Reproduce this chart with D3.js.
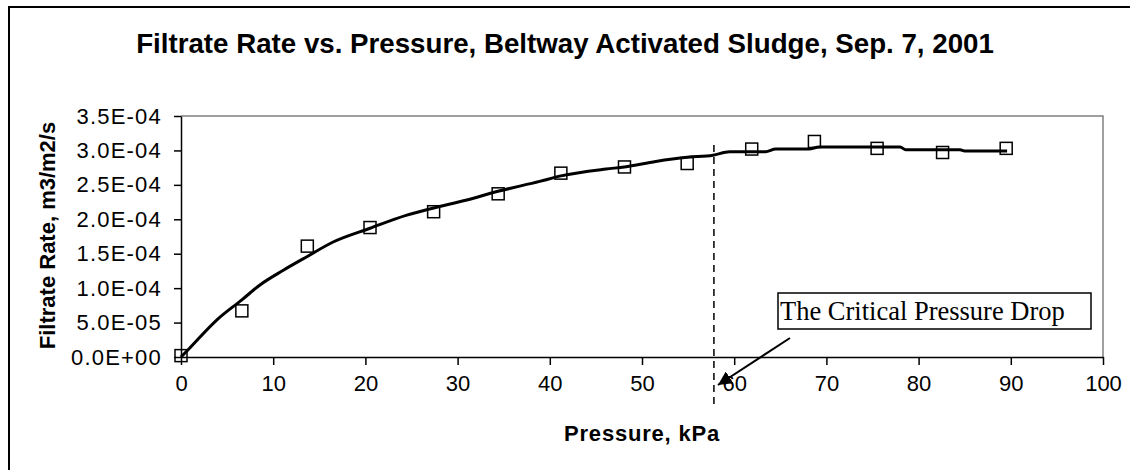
<!DOCTYPE html>
<html>
<head>
<meta charset="utf-8">
<script src="https://cdn.jsdelivr.net/npm/d3@7"></script>
<style>
  html, body { margin: 0; background: #fff; overflow: hidden; }
  svg { display: block; }
</style>
</head>
<body>
<svg></svg>
<script>
// measured points (squares)
const PRESSURE = [0, 6.6, 13.7, 20.5, 27.4, 34.4, 41.2, 48.1, 54.9, 61.9, 68.7, 75.5, 82.6, 89.5];
const RATE = [0.02e-4, 0.67e-4, 1.61e-4, 1.88e-4, 2.11e-4, 2.37e-4, 2.67e-4, 2.76e-4, 2.81e-4, 3.02e-4, 3.13e-4, 3.03e-4, 2.97e-4, 3.03e-4];

// fitted curve
const CURVE_P = [0, 0.8, 3.9, 6.6, 8.6, 11.1, 13.7, 16.5, 20.5, 24.5, 27.3, 31.0, 34.5, 38.9, 41.2, 46.1, 48.1, 51.5, 54.9, 57.7, 59.5, 63.4, 64.5, 68.1, 69.2, 75.5, 78.0, 78.6, 84.5, 85.0, 89.6];
const CURVE_R = [0, 0.11e-4, 0.54e-4, 0.83e-4, 1.05e-4, 1.26e-4, 1.46e-4, 1.67e-4, 1.87e-4, 2.06e-4, 2.16e-4, 2.28e-4, 2.41e-4, 2.55e-4, 2.63e-4, 2.73e-4, 2.76e-4, 2.84e-4, 2.90e-4, 2.93e-4, 2.98e-4, 2.98e-4, 3.02e-4, 3.02e-4, 3.05e-4, 3.05e-4, 3.05e-4, 3.01e-4, 3.01e-4, 2.99e-4, 2.99e-4];

const X_TICKS = [0, 10, 20, 30, 40, 50, 60, 70, 80, 90, 100];
const Y_TICKS = [0, 0.5e-4, 1.0e-4, 1.5e-4, 2.0e-4, 2.5e-4, 3.0e-4, 3.5e-4];
const CRITICAL_P = 57.8;

const WIDTH = 1130, HEIGHT = 470;
const PLOT = { left: 181, right: 1103, top: 116, bottom: 357 };
const SANS = 'Arial, "Liberation Sans", sans-serif';
const SERIF = '"Times New Roman", "Liberation Serif", serif';

const svg = d3.select('svg').attr('width', WIDTH).attr('height', HEIGHT)
    .style('font-family', SANS);

// outer chart border: only left and top edges fall inside the picture
svg.append('path')
    .attr('d', `M9,${HEIGHT}V7H${WIDTH}`)
    .attr('fill', 'none').attr('stroke', '#000').attr('stroke-width', 2);

const x = d3.scaleLinear().domain([0, 100]).range([PLOT.left, PLOT.right]);
const y = d3.scaleLinear().domain([0, 3.5e-4]).range([PLOT.bottom, PLOT.top]);

function sci(d) {
    const parts = d.toExponential(1).split('e');
    const e = +parts[1];
    return parts[0] + 'E' + (e < 0 ? '-' : '+') + String(Math.abs(e)).padStart(2, '0');
}

// plot frame top/right in gray
svg.append('path')
    .attr('d', `M${x(0)},${y(3.5e-4)}H${x(100)}V${y(0)}`)
    .attr('fill', 'none').attr('stroke', '#808080').attr('stroke-width', 1.5);

const xAxis = svg.append('g')
    .attr('transform', `translate(0,${y(0)})`)
    .call(d3.axisBottom(x).tickValues(X_TICKS).tickSize(8).tickSizeOuter(0).tickPadding(10));
const yAxis = svg.append('g')
    .attr('transform', `translate(${x(0)},0)`)
    .call(d3.axisLeft(y).tickValues(Y_TICKS).tickFormat(sci).tickSize(7).tickSizeOuter(0).tickPadding(12));

[xAxis, yAxis].forEach(g => {
    g.attr('font-family', SANS).attr('font-size', 22);
    g.select('.domain').attr('stroke', '#000').attr('stroke-width', 1.5);
    g.selectAll('.tick line').attr('stroke', '#000').attr('stroke-width', 1.5);
    g.selectAll('.tick text').attr('fill', '#000');
});
yAxis.selectAll('.tick text').attr('letter-spacing', 1.2);

// curve
const line = d3.line()
    .x((d, i) => x(CURVE_P[i]))
    .y(d => y(d))
    .curve(d3.curveMonotoneX);
svg.append('path')
    .datum(CURVE_R)
    .attr('d', line)
    .attr('fill', 'none').attr('stroke', '#000').attr('stroke-width', 3)
    .attr('stroke-linejoin', 'round');

// squares
const SQ = 12;
svg.selectAll('.pt')
    .data(RATE)
    .enter()
    .append('rect')
    .classed('pt', true)
    .attr('x', (d, i) => x(PRESSURE[i]) - SQ / 2)
    .attr('y', d => y(d) - SQ / 2)
    .attr('width', SQ).attr('height', SQ)
    .attr('fill', 'none').attr('stroke', '#000').attr('stroke-width', 1.5);

// critical pressure dashed line
svg.append('line')
    .attr('x1', x(CRITICAL_P)).attr('x2', x(CRITICAL_P))
    .attr('y1', y(3.08e-4)).attr('y2', y(0) + 48)
    .attr('stroke', '#000').attr('stroke-width', 1.5)
    .attr('stroke-dasharray', '7,5');

// annotation
svg.append('defs').append('marker')
    .attr('id', 'arrow')
    .attr('viewBox', '0 0 10 10')
    .attr('refX', 10).attr('refY', 5)
    .attr('markerWidth', 7).attr('markerHeight', 7)
    .attr('markerUnits', 'strokeWidth')
    .attr('orient', 'auto')
    .append('path').attr('d', 'M0,0L10,5L0,10Z').attr('fill', '#000');

svg.append('line')
    .attr('x1', 790).attr('y1', 338)
    .attr('x2', x(CRITICAL_P) + 4).attr('y2', y(0) + 28)
    .attr('stroke', '#000').attr('stroke-width', 2)
    .attr('marker-end', 'url(#arrow)');

svg.append('rect')
    .attr('x', 778).attr('y', 293).attr('width', 313).attr('height', 36)
    .attr('fill', '#fff').attr('stroke', '#000').attr('stroke-width', 1.5);
svg.append('text')
    .attr('x', 780).attr('y', 320)
    .style('font-family', SERIF)
    .attr('font-size', 26.5)
    .text('The Critical Pressure Drop');

// titles
svg.append('text')
    .attr('x', 565).attr('y', 53)
    .attr('text-anchor', 'middle')
    .attr('font-size', 27.7).attr('font-weight', 'bold')
    .text('Filtrate Rate vs. Pressure, Beltway Activated Sludge, Sep. 7, 2001');

svg.append('text')
    .attr('x', (PLOT.left + PLOT.right) / 2).attr('y', 441)
    .attr('text-anchor', 'middle')
    .attr('font-size', 22).attr('font-weight', 'bold')
    .attr('letter-spacing', 0.8)
    .text('Pressure, kPa');

svg.append('text')
    .attr('transform', `translate(55,${(PLOT.top + PLOT.bottom) / 2 - 1}) rotate(-90)`)
    .attr('text-anchor', 'middle')
    .attr('font-size', 22).attr('font-weight', 'bold')
    .text('Filtrate Rate, m3/m2/s');
</script>
</body>
</html>
